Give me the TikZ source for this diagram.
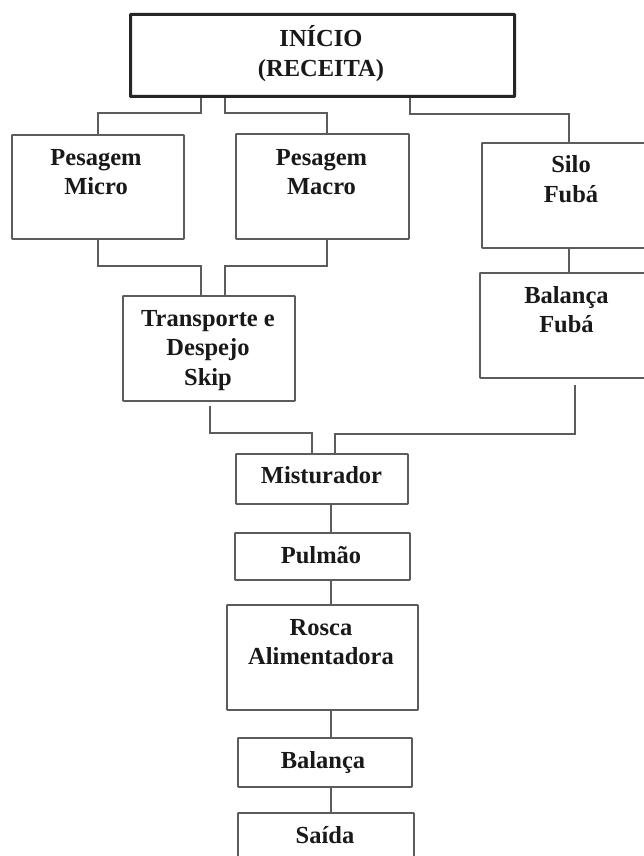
\documentclass[tikz,border=0pt]{standalone}
\usepackage{fontspec}
\setmainfont{Liberation Serif}
\definecolor{lncol}{RGB}{92,92,92}
\definecolor{txcol}{RGB}{25,25,25}
\tikzset{
  boxnode/.style={draw=lncol, line width=1.9pt, inner sep=0pt, anchor=north west, rounded corners=0.6pt},
  headbox/.style={boxnode, draw=black!85, line width=3pt},
  lbl/.style={anchor=north, inner sep=0pt, align=center, text=txcol,
    font=\bfseries\fontsize{24.5}{29.5}\selectfont},
  conn/.style={draw=lncol, line width=1.9pt}
}
\begin{document}
\begin{tikzpicture}[x=1pt,y=-1pt]
\useasboundingbox[fill=white] (0,0) rectangle (643,856);
% boxes
\node[headbox, minimum width=384pt, minimum height=82pt] (inicio) at (129,13) {};
\node[boxnode, minimum width=172pt, minimum height=104pt] (pmi) at (11,134) {};
\node[boxnode, minimum width=173pt, minimum height=105pt] (pma) at (235,133) {};
\node[boxnode, minimum width=180pt, minimum height=105pt] (silo) at (481,142) {};
\node[boxnode, minimum width=175pt, minimum height=105pt] (balf) at (479,272) {};
\node[boxnode, minimum width=172pt, minimum height=105pt] (tr) at (122,295) {};
\node[boxnode, minimum width=172pt, minimum height=50pt] (mis) at (235,453) {};
\node[boxnode, minimum width=175pt, minimum height=47pt] (pul) at (234,532) {};
\node[boxnode, minimum width=191pt, minimum height=105pt] (rosca) at (226,604) {};
\node[boxnode, minimum width=174pt, minimum height=49pt] (bal) at (237,737) {};
\node[boxnode, minimum width=176pt, minimum height=70pt] (saida) at (237,812) {};
% texts
\node[lbl] (tinicio) at (321,13) {\rule{0pt}{33pt}INÍCIO\\[0.5pt](RECEITA)};
\node[lbl] (tpmi) at (96,134) {\rule{0pt}{31pt}Pesagem\\Micro};
\node[lbl] (tpma) at (321.5,133) {\rule{0pt}{32pt}Pesagem\\Macro};
\node[lbl] (tsilo) at (571,142) {\rule{0pt}{30pt}Silo\\[1pt]Fubá};
\node[lbl] (tbalf) at (566.5,272) {\rule{0pt}{31pt}Balança\\Fubá};
\node[lbl] (ttr) at (208,295) {\rule{0pt}{31pt}Transporte e\\Despejo\\Skip};
\node[lbl] (tmis) at (321.5,453) {\rule{0pt}{30pt}Misturador};
\node[lbl] (tpul) at (321,532) {\rule{0pt}{31pt}Pulmão};
\node[lbl] (trosca) at (321,604) {\rule{0pt}{31pt}Rosca\\Alimentadora};
\node[lbl] (tbal) at (323,737) {\rule{0pt}{31pt}Balança};
\node[lbl] (tsaida) at (325,812) {\rule{0pt}{31pt}Saída};
% connectors
\draw[conn] (201,0 |- inicio.south) -- (201,113) -- (98,113) -- (98,0 |- pmi.north);
\draw[conn] (225,0 |- inicio.south) -- (225,113) -- (327,113) -- (327,0 |- pma.north);
\draw[conn] (410,0 |- inicio.south) -- (410,114) -- (569,114) -- (569,0 |- silo.north);
\draw[conn] (569,0 |- silo.south) -- (569,0 |- balf.north);
\draw[conn] (98,0 |- pmi.south) -- (98,266) -- (201,266) -- (201,0 |- tr.north);
\draw[conn] (327,0 |- pma.south) -- (327,266) -- (225,266) -- (225,0 |- tr.north);
\draw[conn, shorten <=4pt] (210,0 |- tr.south) -- (210,433) -- (312,433) -- (312,0 |- mis.north);
\draw[conn, shorten <=6pt] (575,0 |- balf.south) -- (575,434) -- (335,434) -- (335,0 |- mis.north);
\draw[conn] (331,0 |- mis.south) -- (331,0 |- pul.north);
\draw[conn] (331,0 |- pul.south) -- (331,0 |- rosca.north);
\draw[conn] (331,0 |- rosca.south) -- (331,0 |- bal.north);
\draw[conn] (331,0 |- bal.south) -- (331,0 |- saida.north);
\end{tikzpicture}
\end{document}
